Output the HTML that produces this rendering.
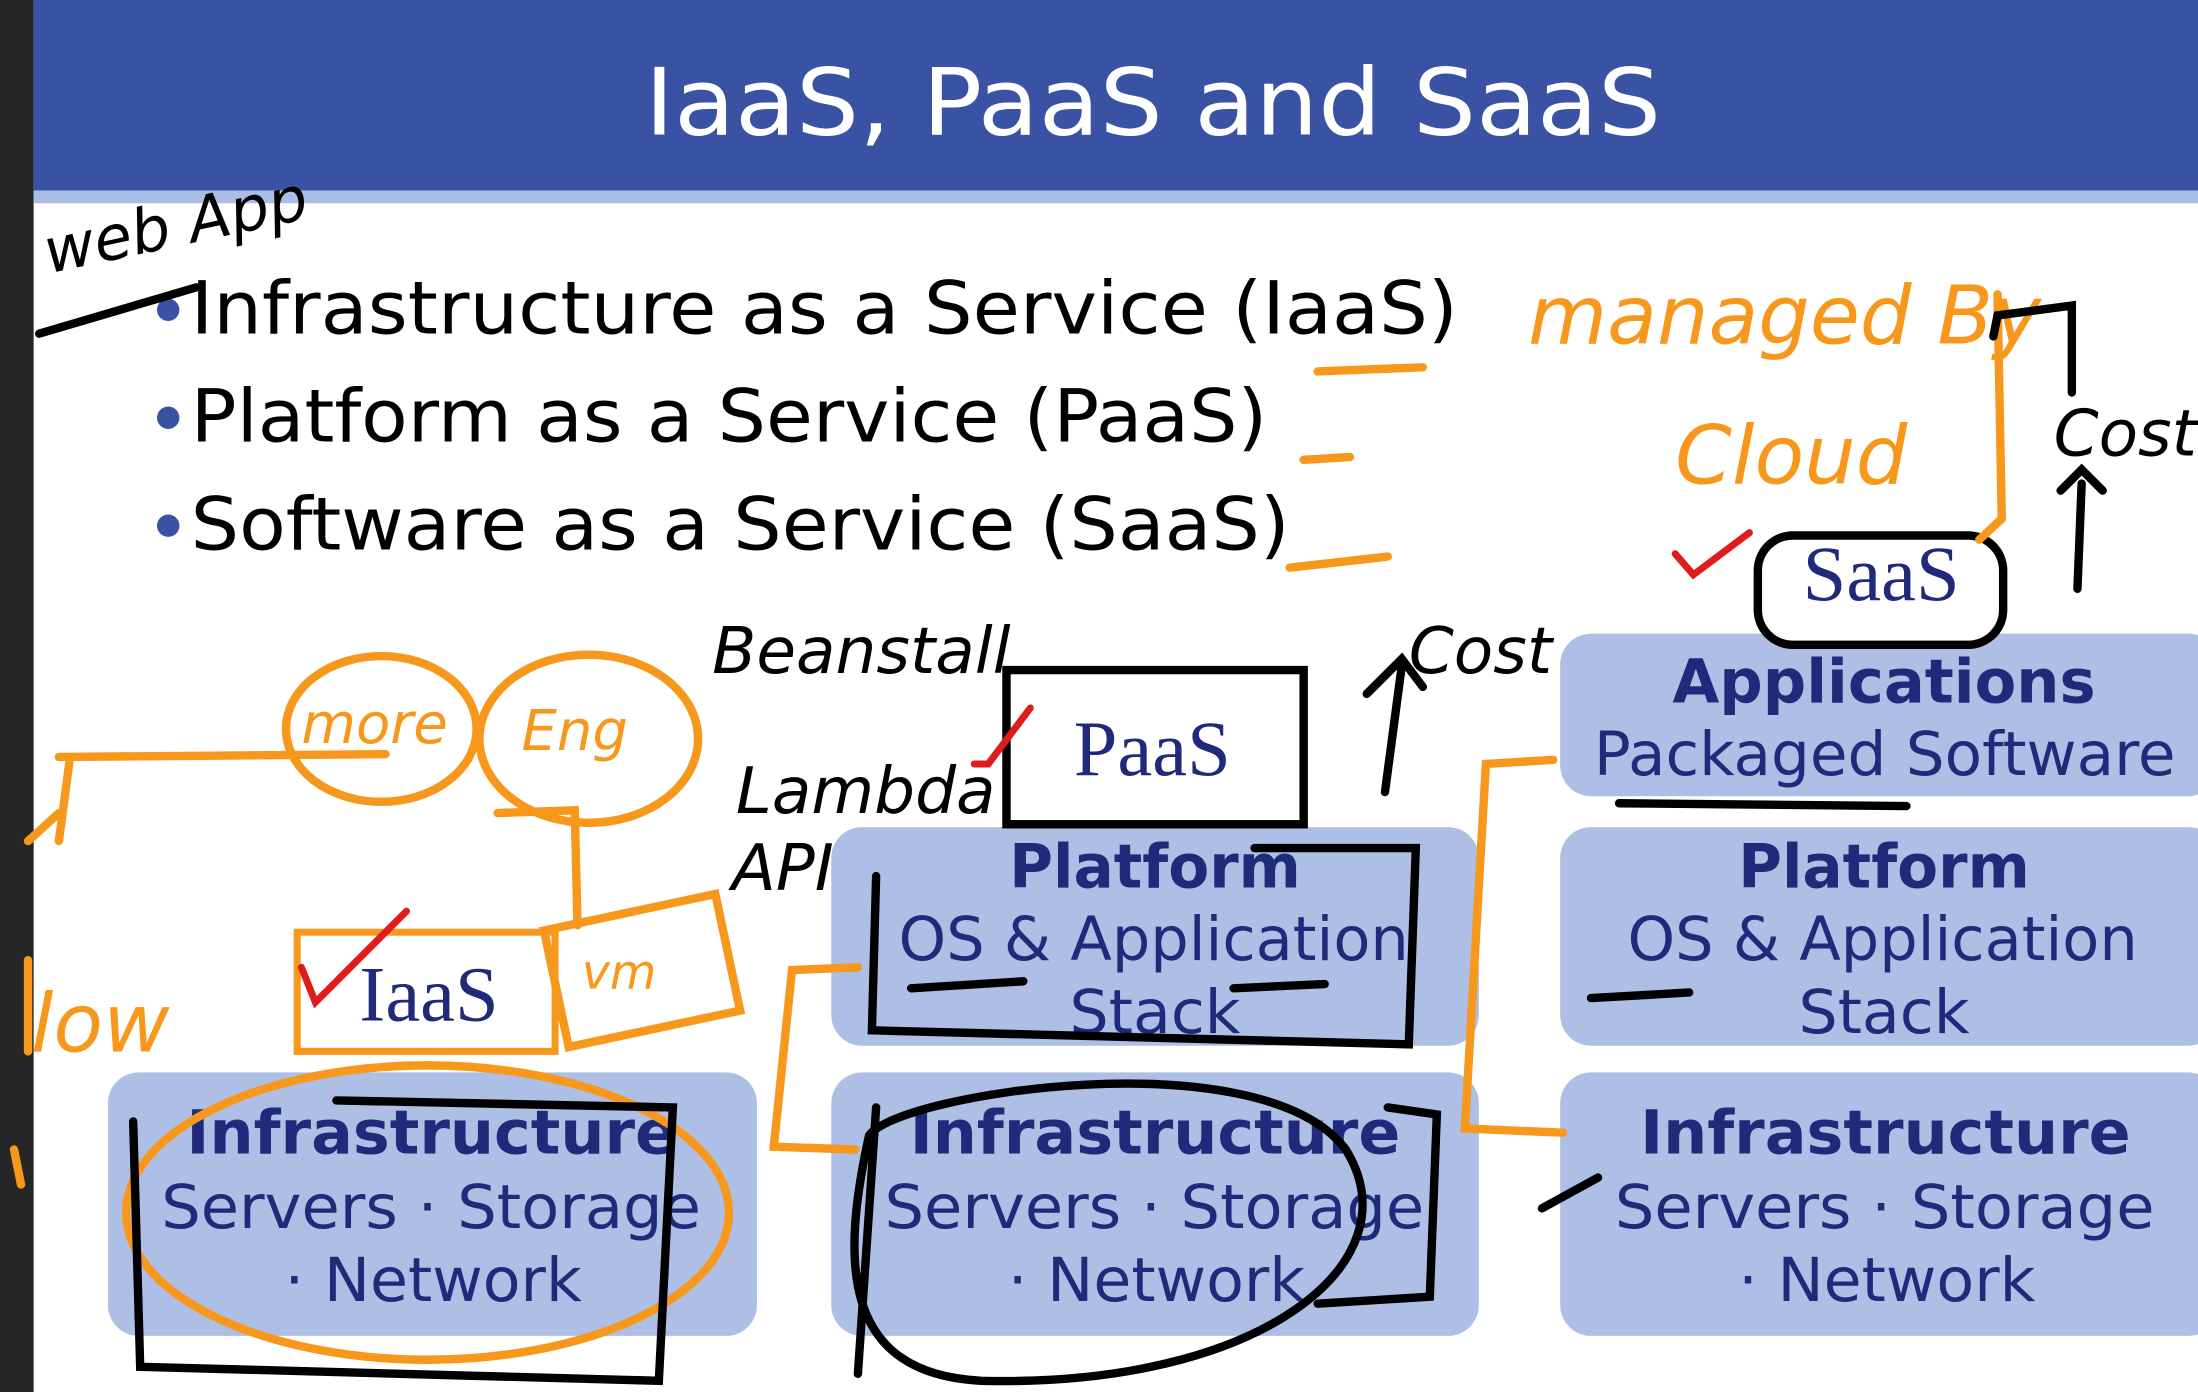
<!DOCTYPE html>
<html><head><meta charset="utf-8"><style>
html,body{margin:0;padding:0;background:#fff;}
svg{display:block;}
</style></head><body>
<svg width="2198" height="1392" viewBox="0 0 1568 993" preserveAspectRatio="none" xmlns="http://www.w3.org/2000/svg">
<rect x="0" y="0" width="1568" height="993" fill="#fff"/>
<rect x="0" y="0" width="24" height="993" fill="#262626"/>
<rect x="24" y="0" width="1544" height="136" fill="#3a52a3"/>
<rect x="24" y="136" width="1544" height="9" fill="#a9bde6"/>
<text x="460" y="96" textLength="725" lengthAdjust="spacingAndGlyphs" font-family="DejaVu Sans, sans-serif" font-size="66" fill="#fff">IaaS, PaaS and SaaS</text>
<g font-family="DejaVu Sans, sans-serif" font-size="52" fill="#000">
<circle cx="120" cy="221" r="8" fill="#3a52a3"/><text x="136" y="238" textLength="904" lengthAdjust="spacingAndGlyphs">Infrastructure as a Service (IaaS)</text>
<circle cx="120" cy="298" r="8" fill="#3a52a3"/><text x="136" y="315" textLength="768" lengthAdjust="spacingAndGlyphs">Platform as a Service (PaaS)</text>
<circle cx="120" cy="375" r="8" fill="#3a52a3"/><text x="136" y="392" textLength="784" lengthAdjust="spacingAndGlyphs">Software as a Service (SaaS)</text>
</g>
<g fill="#aebfe6">
<rect x="77" y="765" width="463" height="188" rx="22"/>
<rect x="593" y="590" width="462" height="156" rx="22"/>
<rect x="593" y="765" width="462" height="188" rx="22"/>
<rect x="1113" y="452" width="470" height="116" rx="22"/>
<rect x="1113" y="590" width="470" height="156" rx="22"/>
<rect x="1113" y="765" width="470" height="188" rx="22"/>
</g>
<g font-family="DejaVu Sans, sans-serif" font-size="43" fill="#1f2a7a">
<text x="133" y="823" font-weight="bold" textLength="350" lengthAdjust="spacingAndGlyphs">Infrastructure</text><text x="115" y="876" textLength="385" lengthAdjust="spacingAndGlyphs">Servers · Storage</text><text x="203" y="928" textLength="212" lengthAdjust="spacingAndGlyphs">· Network</text>
<text x="649" y="823" font-weight="bold" textLength="350" lengthAdjust="spacingAndGlyphs">Infrastructure</text><text x="631" y="876" textLength="385" lengthAdjust="spacingAndGlyphs">Servers · Storage</text><text x="719" y="928" textLength="212" lengthAdjust="spacingAndGlyphs">· Network</text>
<text x="1170" y="823" font-weight="bold" textLength="350" lengthAdjust="spacingAndGlyphs">Infrastructure</text><text x="1152" y="876" textLength="385" lengthAdjust="spacingAndGlyphs">Servers · Storage</text><text x="1240" y="928" textLength="212" lengthAdjust="spacingAndGlyphs">· Network</text>
<text x="720" y="633" font-weight="bold" textLength="208" lengthAdjust="spacingAndGlyphs">Platform</text><text x="641" y="685" textLength="364" lengthAdjust="spacingAndGlyphs">OS &amp; Application</text><text x="763" y="737" textLength="122" lengthAdjust="spacingAndGlyphs">Stack</text>
<text x="1240" y="633" font-weight="bold" textLength="208" lengthAdjust="spacingAndGlyphs">Platform</text><text x="1161" y="685" textLength="364" lengthAdjust="spacingAndGlyphs">OS &amp; Application</text><text x="1283" y="737" textLength="122" lengthAdjust="spacingAndGlyphs">Stack</text>
<text x="1193" y="501" font-weight="bold" textLength="302" lengthAdjust="spacingAndGlyphs">Applications</text><text x="1137" y="553" textLength="415" lengthAdjust="spacingAndGlyphs">Packaged Software</text>
</g>
<g font-family="Liberation Serif, serif" font-size="56" fill="#1f2a7a" text-anchor="middle">
<rect x="212" y="665" width="184" height="85" fill="#fff" stroke="#f7981d" stroke-width="5"/>
<text x="306" y="728">IaaS</text>
<rect x="718" y="478" width="212" height="110" fill="#fff" stroke="#000" stroke-width="6"/>
<text x="822" y="553">PaaS</text>
<rect x="1254" y="382" width="175" height="78" rx="25" fill="#fff" stroke="#000" stroke-width="6"/>
<text x="1342" y="428">SaaS</text>
</g>
<g fill="none" stroke="#f7981d" stroke-width="6" stroke-linecap="round">
<ellipse cx="272" cy="520" rx="68" ry="52"/>
<ellipse cx="420" cy="527" rx="78" ry="60"/>
<ellipse cx="305" cy="865" rx="215" ry="105"/>
<path d="M42 540 L275 538 M50 540 L42 600 M42 580 L20 600"/>
<path d="M940 265 L1015 262 M930 328 L963 326 M920 405 L990 397"/>
<path d="M1108 542 L1060 545 L1045 805 L1115 808"/>
<path d="M612 690 L565 692 L552 818 L610 820"/>
<path d="M355 580 L410 578 L412 660"/>
<rect x="395" y="650" width="125" height="85" transform="rotate(-12 457 690)"/>
<path d="M1425 210 L1428 370 L1412 385"/>
<path d="M20 685 L20 750 M10 820 L15 845"/>
</g>
<g font-family="DejaVu Sans, sans-serif" font-style="italic" fill="#f7981d">
<text x="215" y="530" font-size="40">more</text>
<text x="372" y="535" font-size="40">Eng</text>
<text x="415" y="705" font-size="34">vm</text>
<text x="22" y="750" font-size="58">low</text>
<text x="1090" y="245" font-size="58">managed By</text>
<text x="1195" y="345" font-size="58">Cloud</text>
</g>
<g fill="none" stroke="#000" stroke-width="6" stroke-linecap="round">
<path d="M28 238 L140 205"/>
<path d="M95 800 L100 975 L470 985 L480 790 L240 785"/>
<path d="M625 625 L622 735 L1005 745 L1010 605 L895 605"/>
<path d="M625 790 L612 980 M620 810 C640 780 900 740 960 820 C1010 900 900 990 700 985 C600 980 600 900 620 810 Z"/>
<path d="M990 790 L1025 795 L1020 925 L940 930"/>
<path d="M1155 573 L1360 575 M650 705 L730 700 M880 705 L945 702 M1135 712 L1205 708 M1100 862 L1140 840"/>
<path d="M988 565 L1000 475 M975 495 L1000 470 L1015 490"/>
<path d="M1422 240 L1425 225 L1478 218 L1478 280"/>
<path d="M1485 345 L1482 420 M1470 350 L1485 335 L1500 350"/>
</g>
<g fill="#000" font-family="DejaVu Sans, sans-serif" font-style="italic">
<text x="35" y="195" font-size="44" transform="rotate(-12 35 195)">web App</text>
<text x="508" y="480" font-size="46">Beanstall</text>
<text x="525" y="580" font-size="46">Lambda</text>
<text x="522" y="635" font-size="46">API</text>
<text x="1005" y="480" font-size="46">Cost</text>
<text x="1465" y="325" font-size="46">Cost</text>
</g>
<g fill="none" stroke="#e01b1b" stroke-width="5" stroke-linecap="round">
<path d="M215 690 L225 715 L290 650"/>
<path d="M1195 395 L1208 410 L1248 380"/>
<path d="M695 545 L705 545 L735 505"/>
</g>
</svg>
</body></html>
